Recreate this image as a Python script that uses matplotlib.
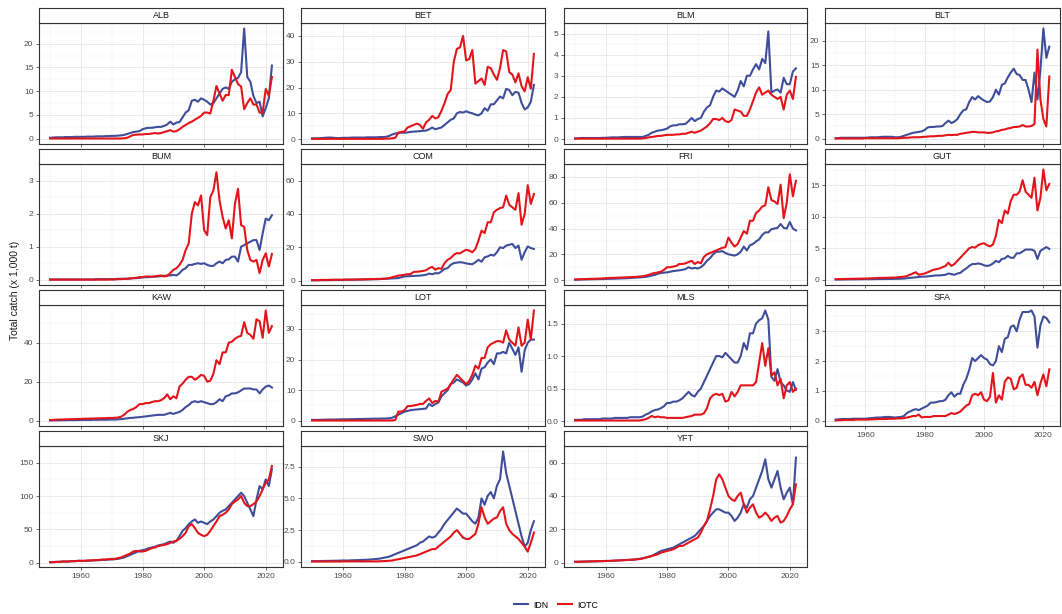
import numpy as np
import matplotlib.pyplot as plt
from matplotlib.lines import Line2D

plt.rcParams['font.family'] = ['Liberation Sans', 'DejaVu Sans']

years = np.arange(1950, 2023)

# ---- data (x 1,000 t), 1950..2022 ----
alb_idn = [0.2,0.25,0.3,0.3,0.3,0.35,0.35,0.35,0.4,0.4,
           0.4,0.4,0.45,0.45,0.45,0.5,0.5,0.5,0.55,0.55,
           0.6,0.6,0.65,0.7,0.8,1.0,1.2,1.4,1.5,1.6,
           2.0,2.2,2.3,2.3,2.4,2.5,2.5,2.7,3.0,3.6,
           3.0,3.4,3.5,4.5,5.5,6.0,8.0,8.2,7.8,8.5,
           8.2,7.8,7.2,7.5,8.5,9.5,10.5,10.8,10.5,12.0,
           12.5,12.8,14.0,23.2,13.0,12.0,9.0,7.5,7.8,4.7,
           6.5,8.5,15.4]
alb_iotc = [0.05]*20 + [
           0.05,0.05,0.05,0.05,0.1,0.2,0.5,0.8,0.85,0.9,
           0.9,1.0,1.0,1.1,1.2,1.1,1.2,1.4,1.6,1.8,
           1.5,1.6,2.0,2.5,2.9,3.3,3.6,4.0,4.4,4.8,
           5.5,5.5,5.3,8.0,11.1,9.5,8.0,9.2,9.2,14.5,
           13.0,11.5,11.0,6.2,7.5,8.5,7.2,7.2,5.5,5.5,
           10.5,9.0,13.0]

bet_idn = [0.3,0.3,0.3,0.4,0.5,0.6,0.6,0.5,0.4,0.4,
           0.5,0.5,0.5,0.6,0.6,0.6,0.6,0.6,0.7,0.7,
           0.7,0.7,0.8,0.8,0.9,1.2,1.8,2.2,2.3,2.5,
           2.5,2.6,2.8,2.9,3.0,3.1,3.2,3.3,3.8,4.5,
           3.8,4.2,4.5,5.5,6.5,7.5,8.0,10.0,10.5,10.3,
           10.8,10.3,10.0,9.5,9.2,10.0,12.0,11.0,13.5,13.5,
           15.0,16.5,15.8,19.5,19.0,17.0,18.3,18.0,14.0,11.5,
           12.3,14.5,21.0]
bet_iotc = [0.1]*20 + [
           0.1,0.1,0.1,0.1,0.2,0.2,0.3,0.5,2.5,2.8,
           3.0,4.5,5.0,5.5,6.0,5.5,4.0,6.5,7.5,9.0,
           8.0,8.5,11.0,14.0,17.5,19.0,30.0,35.0,35.5,40.0,
           30.5,31.0,34.5,21.5,22.5,23.5,21.0,28.0,27.5,25.0,
           23.0,27.5,34.5,34.0,26.0,25.0,22.0,25.5,20.5,18.5,
           24.0,19.5,33.0]

blm_idn = [0.03,0.04,0.05,0.05,0.05,0.05,0.05,0.05,0.05,0.06,
           0.06,0.07,0.08,0.08,0.08,0.09,0.1,0.1,0.1,0.1,
           0.1,0.1,0.1,0.15,0.2,0.3,0.35,0.4,0.42,0.45,
           0.5,0.6,0.65,0.65,0.7,0.7,0.72,0.85,1.0,0.85,
           0.95,1.0,1.3,1.5,1.6,2.0,2.3,2.25,2.4,2.3,
           2.2,2.1,2.0,2.3,2.75,2.5,3.0,3.0,3.3,3.55,
           3.3,3.8,3.6,5.1,2.2,2.3,2.35,2.2,2.9,2.6,
           2.6,3.2,3.35]
blm_iotc = [0.02]*20 + [
           0.02,0.02,0.03,0.05,0.08,0.1,0.12,0.15,0.15,0.18,
           0.2,0.2,0.2,0.22,0.22,0.25,0.25,0.3,0.35,0.3,
           0.35,0.4,0.5,0.6,0.75,0.95,0.95,0.9,1.0,0.85,
           0.8,0.9,1.4,1.35,1.3,1.1,1.1,1.4,1.8,2.2,
           2.45,2.1,2.2,2.3,2.1,2.0,1.9,2.0,1.4,2.1,
           2.3,1.9,2.95]

blt_idn = [0.1,0.15,0.2,0.2,0.2,0.2,0.2,0.2,0.2,0.2,
           0.2,0.25,0.3,0.3,0.3,0.35,0.4,0.4,0.4,0.4,
           0.3,0.3,0.4,0.6,0.8,1.0,1.2,1.3,1.4,1.5,
           1.8,2.3,2.4,2.4,2.5,2.5,2.6,3.2,3.7,3.2,
           3.5,4.0,5.0,5.8,6.0,7.5,8.5,8.0,8.7,8.2,
           7.8,7.5,7.6,8.5,10.0,9.0,11.0,11.3,12.5,13.5,
           14.3,13.2,13.0,12.0,12.0,10.0,7.5,13.5,8.0,14.0,
           22.5,16.5,18.8]
blt_iotc = [0.05]*10 + [0.1]*10 + [
           0.1,0.1,0.15,0.2,0.2,0.25,0.3,0.3,0.3,0.35,
           0.4,0.45,0.5,0.5,0.55,0.6,0.6,0.7,0.8,0.75,
           0.8,0.8,1.0,1.1,1.2,1.3,1.4,1.4,1.3,1.3,
           1.3,1.2,1.2,1.3,1.5,1.6,1.8,1.9,2.1,2.2,
           2.4,2.4,2.5,2.8,2.5,2.5,2.6,3.0,18.2,8.0,
           4.0,2.5,12.7]

bum_idn = [0.01]*15 + [0.02]*5 + [
           0.02,0.02,0.03,0.03,0.03,0.03,0.04,0.05,0.05,0.06,
           0.07,0.08,0.08,0.09,0.1,0.1,0.11,0.12,0.13,0.13,
           0.15,0.13,0.2,0.3,0.35,0.45,0.45,0.48,0.5,0.48,
           0.5,0.45,0.42,0.42,0.5,0.55,0.5,0.6,0.62,0.7,
           0.7,0.55,1.0,1.05,1.1,1.15,1.2,1.2,0.9,1.4,
           1.85,1.8,1.95]
bum_iotc = [0.005]*20 + [
           0.01,0.01,0.02,0.02,0.03,0.03,0.04,0.05,0.06,0.08,
           0.08,0.1,0.1,0.09,0.1,0.12,0.13,0.1,0.12,0.2,
           0.3,0.35,0.45,0.6,0.9,1.1,2.0,2.35,2.25,2.55,
           1.5,1.35,2.5,2.7,3.25,2.4,1.9,1.55,1.8,1.25,
           2.3,2.75,1.65,1.6,0.9,0.6,0.55,0.6,0.2,0.6,
           0.8,0.4,0.78]

com_idn = [0.2,0.2,0.2,0.3,0.3,0.3,0.3,0.4,0.4,0.4,
           0.4,0.5,0.5,0.5,0.5,0.6,0.6,0.6,0.7,0.7,
           0.8,0.8,0.9,1.0,1.1,1.2,1.3,1.4,1.5,2.0,
           2.5,2.6,2.7,2.8,2.9,3.0,3.2,3.5,4.2,3.8,
           4.5,4.3,5.5,7.0,7.5,9.5,10.5,10.8,11.0,10.8,
           10.3,10.0,9.8,11.0,12.5,11.3,14.0,14.5,15.5,15.0,
           17.0,20.0,19.5,21.0,21.5,22.0,19.5,21.0,12.5,17.0,
           20.5,19.5,19.0]
com_iotc = [0.3,0.3,0.3,0.4,0.4,0.4,0.5,0.5,0.5,0.5,
           0.5,0.6,0.6,0.6,0.7,0.7,0.7,0.8,0.8,0.9,
           0.9,1.0,1.0,1.1,1.2,1.5,2.0,2.5,3.0,3.2,
           3.5,3.8,4.0,5.2,5.3,5.5,5.8,6.2,7.5,8.2,
           6.5,7.5,7.0,10.5,12.5,13.5,15.5,16.5,16.3,17.5,
           18.5,18.0,17.0,19.0,24.0,30.0,28.5,35.0,35.0,41.0,
           42.5,43.5,44.0,51.0,45.5,44.0,42.5,52.5,33.5,40.0,
           57.3,46.0,52.0]

fri_idn = [0.3,0.4,0.5,0.5,0.6,0.6,0.7,0.7,0.8,0.8,
           0.9,1.0,1.0,1.1,1.2,1.3,1.4,1.5,1.6,1.8,
           2.0,2.1,2.3,2.5,3.0,3.5,4.0,5.0,5.5,5.8,
           6.0,6.5,7.0,7.3,7.6,8.0,8.5,10.0,9.0,9.5,
           9.0,10.0,12.0,15.0,17.0,20.0,22.0,22.0,22.5,21.0,
           20.0,19.5,19.0,20.0,22.0,26.0,23.0,27.0,28.0,30.0,
           31.5,35.0,37.0,37.0,39.5,40.0,40.5,43.5,40.5,40.0,
           45.0,40.0,38.5]
fri_iotc = [0.5,0.6,0.7,0.8,0.9,1.0,1.0,1.1,1.2,1.3,
           1.5,1.6,1.7,1.8,1.9,2.0,2.1,2.2,2.3,2.4,
           2.5,2.8,3.0,3.5,4.0,5.0,5.5,6.0,6.5,8.0,
           10.0,10.0,10.5,11.0,12.5,12.5,13.0,14.0,15.0,12.5,
           14.0,13.0,18.0,20.0,21.0,22.0,23.0,24.0,25.0,25.5,
           33.0,29.0,26.0,28.0,33.0,38.0,36.0,46.0,46.0,52.0,
           54.0,57.0,58.0,72.0,62.0,61.0,59.0,74.0,48.0,60.0,
           82.0,65.0,77.0]

gut_idn = [0.05,0.05,0.05,0.06,0.06,0.07,0.07,0.08,0.08,0.09,
           0.1,0.1,0.1,0.11,0.12,0.12,0.13,0.13,0.14,0.14,
           0.15,0.16,0.18,0.2,0.25,0.3,0.35,0.4,0.45,0.5,
           0.5,0.55,0.6,0.65,0.7,0.7,0.75,0.8,1.0,0.9,
           0.8,1.0,1.1,1.5,1.8,2.2,2.5,2.5,2.6,2.5,
           2.3,2.2,2.3,2.6,3.0,2.8,3.3,3.4,3.8,3.5,
           3.5,4.2,4.2,4.5,4.8,4.8,4.8,4.6,3.3,4.6,
           4.9,5.2,4.9]
gut_iotc = [0.1,0.11,0.12,0.13,0.14,0.15,0.16,0.17,0.18,0.19,
           0.2,0.22,0.24,0.26,0.28,0.3,0.3,0.32,0.33,0.35,
           0.35,0.4,0.45,0.5,0.6,0.8,1.0,1.2,0.8,0.9,
           1.0,1.2,1.4,1.6,1.7,1.8,2.0,2.2,2.7,2.2,
           2.5,3.0,3.5,4.0,4.5,5.0,5.2,5.1,5.5,5.7,
           5.8,5.5,5.3,5.6,7.0,9.5,9.0,11.0,10.5,12.5,
           13.5,13.5,14.0,15.8,14.0,13.5,13.0,16.2,11.0,13.0,
           17.5,14.2,15.2]

kaw_idn = [0.1,0.15,0.2,0.2,0.25,0.25,0.3,0.3,0.3,0.35,
           0.35,0.4,0.4,0.4,0.45,0.45,0.5,0.5,0.5,0.55,
           0.6,0.6,0.7,0.8,1.0,1.2,1.4,1.5,1.7,1.8,
           2.0,2.2,2.4,2.6,2.8,3.0,3.0,3.0,3.5,4.0,
           3.5,4.0,4.5,5.5,7.0,8.0,9.5,10.0,9.5,10.0,
           9.5,9.0,8.5,8.5,9.5,11.0,10.0,12.5,13.0,14.0,
           14.0,14.5,15.5,16.5,16.5,16.5,16.0,16.0,14.0,16.0,
           17.5,18.0,17.0]
kaw_iotc = [0.3,0.4,0.5,0.6,0.6,0.7,0.7,0.8,0.8,0.9,
           0.9,1.0,1.0,1.1,1.1,1.2,1.2,1.3,1.3,1.4,
           1.4,1.5,1.6,2.0,3.0,4.5,5.5,6.0,7.0,8.5,
           8.5,9.0,9.0,9.5,10.0,10.0,10.5,11.5,13.5,11.0,
           12.5,11.5,17.5,19.0,21.0,22.5,22.5,21.0,22.0,23.5,
           23.0,20.0,20.5,24.0,31.0,29.0,35.0,35.0,40.0,40.5,
           42.0,43.0,43.5,50.5,45.0,44.0,42.0,52.0,51.0,42.5,
           56.5,45.0,48.5]

lot_idn = [0.3,0.3,0.3,0.35,0.35,0.4,0.4,0.4,0.45,0.45,
           0.5,0.5,0.5,0.55,0.55,0.6,0.6,0.6,0.65,0.65,
           0.7,0.7,0.7,0.75,0.75,0.8,1.0,1.5,2.0,2.5,
           3.0,3.2,3.5,3.6,3.7,3.8,3.9,4.0,5.5,4.8,
           5.5,6.0,8.0,9.0,10.0,12.0,12.5,13.5,13.0,12.5,
           11.5,12.0,13.5,15.5,13.5,17.0,17.5,19.0,20.0,18.5,
           22.0,22.0,22.5,22.0,25.5,23.5,21.5,24.0,16.0,23.0,
           25.5,26.5,26.5]
lot_iotc = [0.1]*20 + [
           0.1,0.1,0.1,0.1,0.1,0.1,0.1,0.3,3.0,3.0,
           3.5,4.8,4.8,5.0,5.2,5.5,5.5,6.5,7.3,5.8,
           6.5,6.2,9.5,10.0,10.5,12.0,13.5,15.0,14.0,13.0,
           12.0,13.0,15.0,18.0,17.0,20.5,20.5,24.0,25.0,25.5,
           26.0,26.0,25.5,29.5,26.5,25.5,24.5,30.5,24.5,25.5,
           33.0,26.5,36.0]

mls_idn = [0.02,0.02,0.02,0.03,0.03,0.03,0.03,0.03,0.03,0.04,
           0.04,0.04,0.04,0.05,0.05,0.05,0.05,0.05,0.06,0.06,
           0.06,0.06,0.07,0.1,0.12,0.15,0.17,0.18,0.2,0.23,
           0.28,0.28,0.3,0.3,0.32,0.35,0.4,0.45,0.4,0.38,
           0.45,0.5,0.6,0.7,0.8,0.9,1.0,1.0,0.98,1.05,
           1.0,0.95,0.9,0.9,1.0,1.2,1.1,1.35,1.35,1.5,
           1.55,1.58,1.7,1.56,0.68,0.62,0.8,0.6,0.55,0.47,
           0.45,0.6,0.48]
mls_iotc = [0.01]*20 + [
           0.01,0.01,0.02,0.03,0.05,0.08,0.06,0.07,0.06,0.06,
           0.05,0.05,0.05,0.05,0.05,0.05,0.06,0.07,0.08,0.1,
           0.1,0.1,0.12,0.2,0.35,0.4,0.42,0.4,0.42,0.3,
           0.32,0.45,0.38,0.45,0.55,0.55,0.55,0.55,0.55,0.6,
           0.9,1.2,0.85,1.12,0.7,0.75,0.55,0.65,0.35,0.55,
           0.6,0.45,0.5]

sfa_idn = [0.03,0.04,0.05,0.05,0.05,0.05,0.06,0.06,0.06,0.06,
           0.06,0.07,0.08,0.09,0.1,0.1,0.11,0.12,0.12,0.11,
           0.1,0.11,0.12,0.15,0.25,0.3,0.35,0.38,0.35,0.4,
           0.45,0.5,0.6,0.6,0.62,0.65,0.65,0.7,0.85,0.95,
           0.8,0.9,0.9,1.2,1.4,1.7,2.1,2.0,2.1,2.2,
           2.1,2.05,1.9,1.85,2.0,2.5,2.3,2.75,2.8,3.15,
           3.2,3.0,3.4,3.65,3.65,3.65,3.7,3.5,2.45,3.2,
           3.5,3.45,3.3]
sfa_iotc = [0.0,0.01,0.01,0.02,0.02,0.02,0.02,0.03,0.03,0.03,
           0.03,0.03,0.04,0.04,0.05,0.05,0.05,0.05,0.06,0.06,
           0.06,0.07,0.07,0.08,0.1,0.12,0.15,0.15,0.2,0.1,
           0.12,0.12,0.12,0.15,0.15,0.15,0.15,0.15,0.2,0.25,
           0.22,0.25,0.3,0.4,0.5,0.55,0.85,0.9,0.85,0.95,
           0.7,0.65,0.8,1.6,0.6,0.85,0.7,1.3,1.45,1.4,
           1.05,1.1,1.45,1.55,1.2,1.2,1.1,1.3,0.85,1.25,
           1.55,1.15,1.72]

skj_idn = [1,1,1.5,1.5,2,2,2,2.5,2.5,3,
           3,3,3,3.5,3.5,4,4,4.5,4.5,5,
           5,5.5,6,7,8,10,12,14,16,18,
           19,20,22,23,24,26,27,28,30,32,
           30,33,40,48,52,58,62,65,60,62,
           60,58,62,65,70,75,78,80,85,90,
           95,100,105,100,90,80,70,95,115,110,
           125,115,140]
skj_iotc = [1,1,1.5,1.5,2,2,2,2.5,2.5,3,
           3,3,3.5,3.5,4,4,4.5,5,5,5.5,
           6,6,7,8,10,12,14,17,18,17,
           17,18,20,22,23,25,26,27,28,30,
           32,33,36,40,45,55,58,52,45,42,
           40,42,48,55,62,70,72,75,80,88,
           92,95,100,90,85,85,88,92,100,110,
           120,125,145]

swo_idn = [0.05,0.05,0.05,0.06,0.06,0.07,0.07,0.08,0.08,0.09,
           0.1,0.1,0.1,0.12,0.12,0.13,0.14,0.15,0.16,0.18,
           0.2,0.22,0.25,0.3,0.35,0.4,0.5,0.6,0.7,0.8,
           0.9,1.0,1.1,1.2,1.3,1.5,1.6,1.8,2.0,1.9,
           2.0,2.3,2.6,3.0,3.3,3.6,3.9,4.2,4.0,3.8,
           3.8,3.5,3.2,3.0,3.5,5.0,4.5,5.2,5.5,5.0,
           6.0,6.5,8.7,7.0,6.0,5.0,4.0,3.0,2.0,1.2,
           1.5,2.5,3.2]
swo_iotc = [0.02]*10 + [0.03]*10 + [
           0.03,0.03,0.04,0.05,0.06,0.08,0.1,0.15,0.2,0.25,
           0.3,0.35,0.4,0.45,0.5,0.6,0.7,0.8,0.9,1.0,
           1.0,1.2,1.4,1.6,1.8,2.0,2.3,2.5,2.2,1.9,
           1.8,1.8,2.0,2.2,3.0,4.3,3.5,3.0,3.2,3.4,
           3.5,4.0,4.3,3.0,2.5,2.2,2.0,1.8,1.5,1.2,
           0.8,1.5,2.3]

yft_idn = [0.5,0.5,0.6,0.6,0.7,0.7,0.8,0.8,0.9,0.9,
           1.0,1.0,1.1,1.2,1.3,1.4,1.5,1.6,1.7,1.8,
           2.0,2.2,2.5,3.0,3.5,4.0,5.0,6.0,7.0,7.5,
           8.0,8.5,9.0,10.0,11.0,12.0,13.0,14.0,15.0,16.0,
           18.0,20.0,22.0,25.0,28.0,30.0,32.0,32.0,31.0,30.0,
           30.0,28.0,25.0,27.0,30.0,35.0,33.0,38.0,40.0,45.0,
           50.0,55.0,62.0,50.0,45.0,50.0,55.0,45.0,38.0,42.0,
           45.0,35.0,63.0]
yft_iotc = [0.5,0.5,0.6,0.6,0.7,0.7,0.8,0.8,0.9,0.9,
           1.0,1.0,1.1,1.2,1.3,1.4,1.5,1.6,1.7,1.8,
           2.0,2.2,2.5,3.0,3.5,4.0,4.5,5.0,6.0,6.5,
           7.0,7.5,8.0,9.0,10.0,10.0,11.0,12.0,13.0,14.0,
           15.0,18.0,22.0,25.0,32.0,40.0,50.0,53.0,50.0,45.0,
           40.0,38.0,37.0,40.0,42.0,35.0,30.0,33.0,35.0,30.0,
           27.0,28.0,30.0,28.0,25.0,27.0,28.0,24.0,25.0,28.0,
           32.0,35.0,47.0]

species = ['ALB', 'BET', 'BLM', 'BLT', 'BUM', 'COM', 'FRI', 'GUT',
           'KAW', 'LOT', 'MLS', 'SFA', 'SKJ', 'SWO', 'YFT']
idn = [alb_idn, bet_idn, blm_idn, blt_idn, bum_idn, com_idn, fri_idn, gut_idn,
       kaw_idn, lot_idn, mls_idn, sfa_idn, skj_idn, swo_idn, yft_idn]
iotc = [alb_iotc, bet_iotc, blm_iotc, blt_iotc, bum_iotc, com_iotc, fri_iotc, gut_iotc,
        kaw_iotc, lot_iotc, mls_iotc, sfa_iotc, skj_iotc, swo_iotc, yft_iotc]

yticks = [[0, 5, 10, 15, 20], [0, 10, 20, 30, 40], [0, 1, 2, 3, 4, 5], [0, 5, 10, 15, 20],
          [0, 1, 2, 3], [0, 20, 40, 60], [0, 20, 40, 60, 80], [0, 5, 10, 15],
          [0, 20, 40], [0, 10, 20, 30], [0, 0.5, 1.0, 1.5], [0, 1, 2, 3],
          [0, 50, 100, 150], [0, 2.5, 5.0, 7.5], [0, 20, 40, 60]]
ylabels = [None]*15
ylabels[10] = ['0.0', '0.5', '1.0', '1.5']
ylabels[13] = ['0.0', '2.5', '5.0', '7.5']

xticks = [1960, 1980, 2000, 2020]

IDN_COL = '#3F4E9B'
IOTC_COL = '#E3151B'

# ---- layout (pixels) ----
W, H = 1062, 614
fig = plt.figure(figsize=(W/100, H/100), dpi=100)
col_left = [39, 301, 564, 825]
col_right = [283, 545, 807, 1060]
strip_top = [8, 149, 290, 431]
strip_h = 15
panel_h = 121

for i, sp in enumerate(species):
    r, c = i // 4, i % 4
    l, rr = col_left[c], col_right[c]
    top = strip_top[r]
    ax = fig.add_axes([l/W, 1-(top+strip_h+panel_h)/H, (rr-l)/W, panel_h/H])
    st = fig.add_axes([l/W, 1-(top+strip_h)/H, (rr-l)/W, strip_h/H])
    st.set_xticks([]); st.set_yticks([])
    for s in st.spines.values():
        s.set_color('#333333'); s.set_linewidth(0.8)
    st.text(0.5, 0.5, sp, ha='center', va='center', fontsize=6.5, color='#1A1A1A',
            transform=st.transAxes)

    ax.plot(years, idn[i], color=IDN_COL, lw=1.5, zorder=3)
    ax.plot(years, iotc[i], color=IOTC_COL, lw=1.5, zorder=3)

    lo = min(min(idn[i]), min(iotc[i]))
    hi = max(max(idn[i]), max(iotc[i]))
    pad = 0.05 * (hi - lo)
    ax.set_ylim(lo - pad, hi + pad)
    ax.set_xlim(1950 - 3.6, 2022 + 3.6)

    yt = yticks[i]
    ax.set_yticks(yt)
    if ylabels[i] is not None:
        ax.set_yticklabels(ylabels[i])
    ax.set_yticks([(a + b) / 2 for a, b in zip(yt, yt[1:] + [yt[-1] + (yt[1]-yt[0])])], minor=True)
    ax.set_xticks(xticks)
    ax.set_xticks([1950, 1970, 1990, 2010], minor=True)

    ax.grid(which='major', color='#E6E6E6', lw=0.6, zorder=0)
    ax.grid(which='minor', color='#F0F0F0', lw=0.35, zorder=0)
    ax.set_axisbelow(True)
    for s in ax.spines.values():
        s.set_color('#333333'); s.set_linewidth(0.8)
    ax.tick_params(which='major', labelsize=6, labelcolor='#4D4D4D', color='#333333',
                   length=2.5, width=0.5, pad=1.5)
    ax.tick_params(which='minor', length=0)
    if not (r == 3 or i == 11):
        ax.tick_params(axis='x', labelbottom=False)

fig.text(15/W, 1-290/H, 'Total catch (x 1,000 t)', rotation=90, ha='center', va='center',
         fontsize=7.5, color='#1A1A1A')

handles = [Line2D([], [], color=IDN_COL, lw=1.5), Line2D([], [], color=IOTC_COL, lw=1.5)]
fig.legend(handles, ['IDN', 'IOTC'], loc='center', bbox_to_anchor=(556/W, 1-605/H), ncol=2,
           frameon=False, fontsize=6.3, handlelength=1.6, columnspacing=1.2, handletextpad=0.5)

fig.savefig('out.png', dpi=100)
